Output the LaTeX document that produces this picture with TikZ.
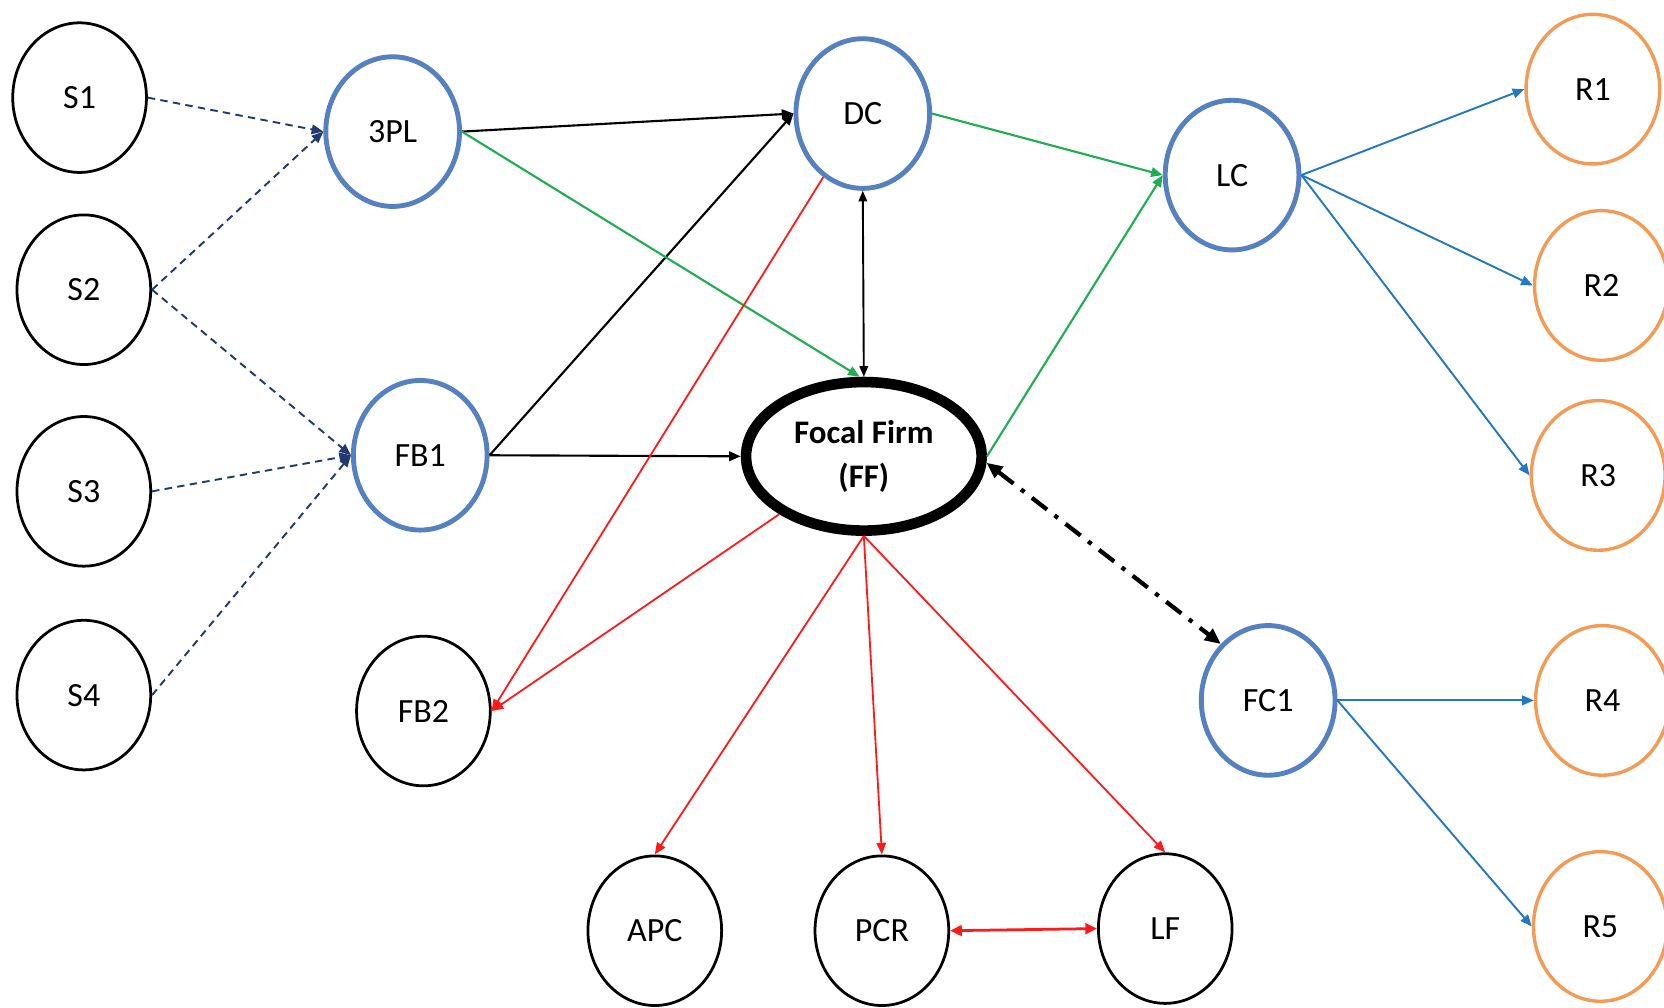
\documentclass[tikz,border=0pt]{standalone}
\usepackage{fontspec}
\setmainfont{Carlito}
\usetikzlibrary{shapes.geometric,arrows.meta}

\definecolor{hubblue}{HTML}{5681C0}
\definecolor{retailorange}{HTML}{F39A55}
\definecolor{flowblue}{HTML}{2477C2}
\definecolor{flowgreen}{HTML}{1FAE52}
\definecolor{flowred}{HTML}{FF1A1A}
\definecolor{supplynavy}{HTML}{1F3A6E}

\begin{document}
\begin{tikzpicture}[x=1pt,y=-1pt,
  every node/.style={font=\fontsize{32}{38}\selectfont},
  actor/.style={ellipse, draw=black, line width=2.6pt, minimum width=126pt,
                minimum height=141pt, inner sep=0pt},
  hubnode/.style={actor, draw=hubblue, line width=4.6pt},
  retail/.style={actor, draw=retailorange, line width=3.2pt},
  focal/.style={ellipse, draw=black, line width=10pt, minimum width=222pt,
                minimum height=140pt, inner sep=0pt, align=center,
                font=\fontsize{31}{41}\selectfont\bfseries},
  tip/.style={-{Triangle[length=11pt,width=9pt]}},
  supplyflow/.style={draw=supplynavy, line width=1.8pt, dash pattern=on 7pt off 5pt, tip},
  blackflow/.style={draw=black, line width=2pt, tip},
  greenflow/.style={draw=flowgreen, line width=2pt, tip},
  blueflow/.style={draw=flowblue, line width=1.8pt, tip},
  redflow/.style={draw=flowred, line width=1.7pt, tip},
]
\useasboundingbox (0,0) rectangle (1568,949);
\clip (0,0) rectangle (1568,949);
\fill[white] (0,0) rectangle (1568,949);

% suppliers
\node[actor] (S1) at (75,92) {S1};
\node[actor] (S2) at (79,273) {S2};
\node[actor] (S3) at (79,463) {S3};
\node[actor] (S4) at (79,655) {S4};

% logistics and distribution hubs
\node[hubnode] (TPL) at (370,124) {3PL};
\node[hubnode] (FB1) at (396,429) {FB1};
\node[actor]   (FB2) at (399,670) {FB2};
\node[hubnode] (DC)  at (813,107) {DC};
\node[hubnode] (LC)  at (1161,165) {LC};
\node[hubnode] (FC1) at (1195,660) {FC1};

% focal firm
\node[focal] (FF) at (814,430) {Focal Firm\\(FF)};

% end-of-life partners
\node[actor] (APC) at (617,877) {APC};
\node[actor] (PCR) at (831,877) {PCR};
\node[actor] (LF)  at (1098,875) {LF};

% retailers
\node[retail] (R1) at (1501,84) {R1};
\node[retail] (R2) at (1509,269) {R2};
\node[retail] (R3) at (1506,448) {R3};
\node[retail] (R4) at (1510,660) {R4};
\node[retail] (R5) at (1508,873) {R5};

% supplier inflows
\draw[supplyflow] (S1.east) -- (TPL.west);
\draw[supplyflow] (S2.east) -- (TPL.west);
\draw[supplyflow] (S2.east) -- (FB1.west);
\draw[supplyflow] (S3.east) -- (FB1.west);
\draw[supplyflow] (S4.east) -- (FB1.west);

% forward flows
\draw[blackflow] (TPL.east) -- (DC.west);
\draw[blackflow] (FB1.east) -- (DC.west);
\draw[blackflow] (FB1.east) -- (FF.west);
\draw[greenflow] (TPL.east) -- (FF.93);
\draw[draw=black, line width=1.8pt, {Triangle[length=10pt,width=8pt]}-{Triangle[length=10pt,width=8pt]}]
  (DC.south) -- (FF.north);
\draw[greenflow] (DC.east) -- (LC.west);
\draw[greenflow] (FF.east) -- (LC.west);

% deliveries to retailers
\draw[blueflow] (LC.east) -- (R1.west);
\draw[blueflow] (LC.east) -- (R2.west);
\draw[blueflow] (LC.east) -- (R3.west);
\draw[blueflow] (FC1.east) -- (R4.west);
\draw[blueflow] (FC1.east) -- (R5.west);

% focal firm and fulfilment centre
\draw[draw=black, line width=4pt, dash pattern=on 18pt off 9pt on 4pt off 9pt,
      {Triangle[length=15pt,width=13pt]}-{Triangle[length=15pt,width=13pt]}]
  (FF.-3) -- (FC1.130);

% reverse flows
\draw[redflow] (DC) -- (FB2.east);
\draw[redflow] (FF) -- (FB2.east);
\draw[redflow] (FF.south) -- (APC.north);
\draw[redflow] (FF.south) -- (PCR.north);
\draw[redflow] (FF.south) -- (LF.north);
\draw[draw=flowred, line width=2.6pt,
      {Triangle[length=11pt,width=10pt]}-{Triangle[length=11pt,width=10pt]}]
  (PCR.east) -- (LF.west);
\end{tikzpicture}
\end{document}
